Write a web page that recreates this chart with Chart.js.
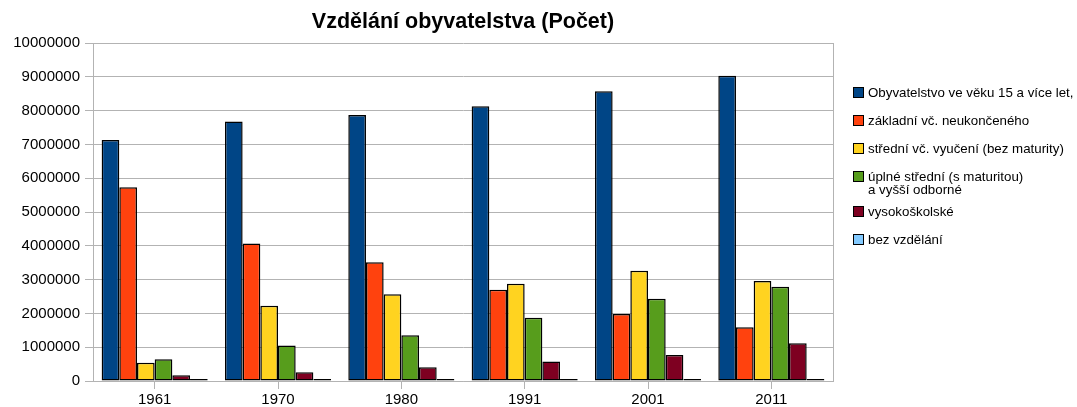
<!DOCTYPE html>
<html lang="cs">
<head>
<meta charset="UTF-8">
<title>Vzdělání obyvatelstva</title>
<script src="https://cdn.jsdelivr.net/npm/chart.js@4.4.1/dist/chart.umd.min.js"></script>
<style>
    html, body { margin: 0; padding: 0; background: #fff; }
    #chartBox { width: 1077px; height: 407px; position: relative; }
</style>
</head>
<body>
<div id="chartBox"><canvas id="barChart"></canvas></div>
<script>
// data
const years = ['1961', '1970', '1980', '1991', '2001', '2011'];
const obyvatelstvo15 = [7130000, 7680000, 7870000, 8130000, 8570000, 9030000];
const zakladni = [5730000, 4070000, 3510000, 2700000, 1980000, 1590000];
const stredniVyuceni = [540000, 2230000, 2570000, 2880000, 3260000, 2960000];
const uplneStredni = [640000, 1050000, 1350000, 1870000, 2430000, 2790000];
const vysokoskolske = [170000, 260000, 410000, 580000, 770000, 1120000];
const bezVzdelani = [30000, 30000, 30000, 30000, 30000, 40000];

const seriesLabels = [
    'Obyvatelstvo ve věku 15 a více let,',
    'základní vč. neukončeného',
    'střední vč. vyučení (bez maturity)',
    'úplné střední (s maturitou)\na vyšší odborné',
    'vysokoškolské',
    'bez vzdělání'
];
const seriesValues = [obyvatelstvo15, zakladni, stredniVyuceni, uplneStredni, vysokoskolske, bezVzdelani];
const seriesColors = ['#004586', '#ff420e', '#ffd320', '#579d1c', '#7e0021', '#83caff'];

const fontFamily = '"Liberation Sans", Arial, sans-serif';
const gridColor = '#b3b3b3';

// legend drawn by hand so the two-line entry works like in the original
const sideLegend = {
    id: 'sideLegend',
    afterDraw(chart) {
        const ctx = chart.ctx;
        const area = chart.chartArea;
        ctx.save();

        // right border of the plot area
        ctx.strokeStyle = gridColor;
        ctx.lineWidth = 1;
        ctx.beginPath();
        ctx.moveTo(Math.round(area.right) + 0.5, area.top);
        ctx.lineTo(Math.round(area.right) + 0.5, area.bottom);
        ctx.stroke();

        ctx.font = '13.3px ' + fontFamily;
        ctx.textBaseline = 'middle';
        let y = 92;
        chart.data.datasets.forEach(ds => {
            const lines = ds.label.split('\n');
            ctx.fillStyle = ds.backgroundColor;
            ctx.fillRect(853, y - 5, 11, 11);
            ctx.strokeStyle = '#000';
            ctx.strokeRect(853.5, y - 4.5, 10, 10);
            ctx.fillStyle = '#000';
            lines.forEach((line, i) => {
                ctx.fillText(line, 868, y + 1 + i * 13);
            });
            y += 28 + (lines.length - 1) * 7;
        });
        ctx.restore();
    }
};

function renderChart() {
    const ctx = document.getElementById('barChart').getContext('2d');
    new Chart(ctx, {
        type: 'bar',
        data: {
            labels: years,
            datasets: seriesValues.map((values, i) => ({
                label: seriesLabels[i],
                data: values,
                backgroundColor: seriesColors[i],
                borderColor: '#000',
                borderWidth: 1.5,
                borderSkipped: false,
                minBarLength: 2,
                barPercentage: 1,
                categoryPercentage: 0.86
            }))
        },
        options: {
            responsive: true,
            maintainAspectRatio: false,
            animation: false,
            layout: { padding: { left: 0, right: 244, top: 0, bottom: 0 } },
            plugins: {
                legend: { display: false },
                tooltip: { enabled: false },
                title: {
                    display: true,
                    text: 'Vzdělání obyvatelstva (Počet)',
                    fullSize: false,
                    color: '#000',
                    font: { family: fontFamily, size: 21.5, weight: 'bold' },
                    padding: { top: 9, bottom: 8.2 }
                }
            },
            scales: {
                x: {
                    afterFit(scale) { scale.height = 26; },
                    grid: {
                        offset: false,
                        drawOnChartArea: false,
                        color: gridColor,
                        tickLength: 8
                    },
                    border: { color: gridColor },
                    ticks: {
                        color: '#000',
                        padding: 2,
                        font: { family: fontFamily, size: 15 }
                    }
                },
                y: {
                    min: 0,
                    max: 10000000,
                    afterFit(scale) { scale.width = 93; },
                    grid: { color: gridColor, tickLength: 8 },
                    border: { color: gridColor },
                    ticks: {
                        stepSize: 1000000,
                        color: '#000',
                        padding: 5,
                        font: { family: fontFamily, size: 15 },
                        callback: value => String(value)
                    }
                }
            }
        },
        plugins: [sideLegend]
    });
}

document.addEventListener('DOMContentLoaded', renderChart);
</script>
</body>
</html>
